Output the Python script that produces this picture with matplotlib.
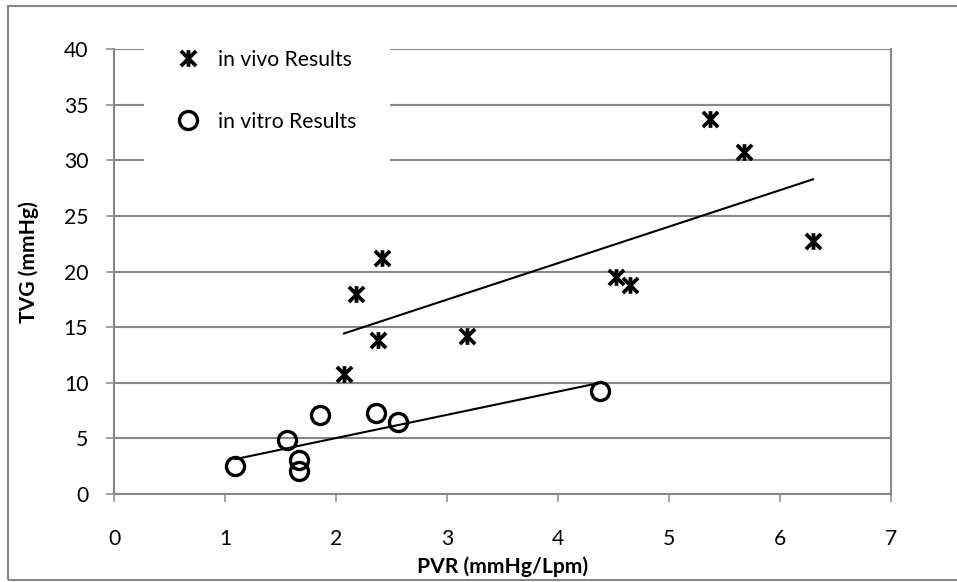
import numpy as np
import matplotlib.pyplot as plt
from matplotlib.path import Path
from matplotlib.patches import Rectangle

plt.rcParams['font.family'] = ['Lato', 'DejaVu Sans']

# in vivo measurements
vivo_pvr = [2.07, 2.18, 2.38, 2.41, 3.18, 4.52, 4.65, 5.37, 5.68, 6.30]
vivo_tvg = [10.8, 18.0, 13.8, 21.2, 14.2, 19.5, 18.8, 33.7, 30.7, 22.7]

# in vitro measurements
vitro_pvr = [1.09, 1.56, 1.66, 1.66, 1.85, 2.36, 2.56, 4.38]
vitro_tvg = [2.5, 4.85, 3.05, 2.1, 7.1, 7.25, 6.5, 9.25]

xticks = [0, 1, 2, 3, 4, 5, 6, 7]
yticks = [0, 5, 10, 15, 20, 25, 30, 35, 40]

grey = '#878787'
fs = 15.2

# Excel-style star marker: an X with a vertical bar through it
star = Path([(-1, -1), (1, 1), (-1, 1), (1, -1), (0, -1.1), (0, 1.1)],
            [Path.MOVETO, Path.LINETO, Path.MOVETO, Path.LINETO,
             Path.MOVETO, Path.LINETO])

fig = plt.figure(figsize=(9.57, 5.82), dpi=100)
ax = fig.add_axes([0.1196, 0.1512, 0.8111, 0.7646])

ax.plot(vivo_pvr, vivo_tvg, linestyle='none', marker=star, ms=12,
        mfc='none', mec='black', mew=2.7, label='in vivo Results', zorder=4)
ax.plot(vitro_pvr, vitro_tvg, linestyle='none', marker='o', ms=13,
        mfc='none', mec='black', mew=2.4, label='in vitro Results', zorder=4)

# linear trendlines over each series' range
for xs, ys in [(vivo_pvr, vivo_tvg), (vitro_pvr, vitro_tvg)]:
    k, b = np.polyfit(xs, ys, 1)
    xr = np.array([min(xs), max(xs)])
    ax.plot(xr, k * xr + b, color='black', lw=1.5, zorder=3)

ax.set_xlim(0, 7)
ax.set_ylim(0, 40)
ax.set_xticks(xticks)
ax.set_yticks(yticks)
ax.grid(axis='y', color=grey, lw=1.5)
ax.set_axisbelow(True)

for side in ['left', 'bottom', 'right']:
    ax.spines[side].set_color(grey)
    ax.spines[side].set_linewidth(1.5)
ax.spines['top'].set_visible(False)

ax.tick_params(axis='both', direction='out', length=5.8, width=1.1,
               color=grey, labelsize=fs, labelcolor='black')
ax.tick_params(axis='y', pad=13)
ax.tick_params(axis='x', pad=19.5)

ax.set_xlabel('PVR (mmHg/Lpm)', fontsize=fs, fontweight='bold')
ax.set_ylabel('TVG (mmHg)', fontsize=fs, fontweight='bold')
ax.xaxis.set_label_coords(0.5, -0.164)
ax.xaxis.label.set_va('center')
ax.yaxis.set_label_coords(-0.111, 0.521)
ax.yaxis.label.set_va('center')

leg = ax.legend(loc='upper left', bbox_to_anchor=(0.024, 1.0985),
                frameon=True, facecolor='white', edgecolor='none',
                framealpha=1, fancybox=False, fontsize=fs,
                handlelength=1.0, handletextpad=0.9, labelspacing=2.0,
                borderpad=1.6, numpoints=1)
leg.set_zorder(5)

fig.add_artist(Rectangle((0.0084, 0.0034), 1.0, 0.986, transform=fig.transFigure,
                         fill=False, edgecolor=grey, lw=1.5))

fig.savefig('out.png', dpi=100)
